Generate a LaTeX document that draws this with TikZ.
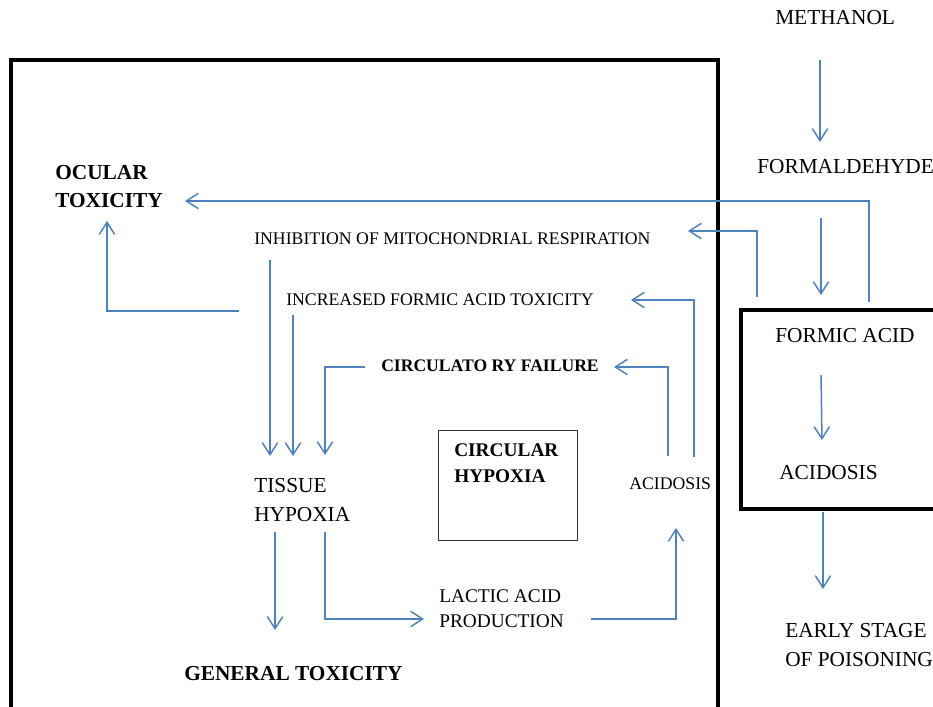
\documentclass[tikz,border=0pt]{standalone}
\usepackage{fontspec}
\setmainfont{Liberation Serif}
\usetikzlibrary{arrows.meta}
\definecolor{flowblue}{RGB}{79,129,189}
\tikzset{
  flow/.style={draw=flowblue,line width=1.1pt,
    -{Straight Barb[length=9pt,width=11.5pt,line width=1.1pt]}},
  frame/.style={draw=black,line width=3pt},
  thinbox/.style={draw=black!80,line width=0.75pt},
  txt/.style={inner sep=0pt,anchor=west,align=left},
  big/.style={txt,font=\fontsize{16}{21.5}\selectfont},
  bigbold/.style={txt,font=\fontsize{16}{21}\selectfont\bfseries},
  mid/.style={txt,font=\fontsize{14.5}{18.8}\selectfont},
  midbold/.style={txt,font=\fontsize{14.5}{19.5}\selectfont\bfseries},
  small/.style={txt,font=\fontsize{13.3}{16}\selectfont},
  smallbold/.style={txt,font=\fontsize{13.2}{16}\selectfont\bfseries},
}
\begin{document}
\begin{tikzpicture}[x=0.75pt,y=-0.75pt]
  \useasboundingbox (0,0) rectangle (933,707);
%% frames
  \draw[frame] (11,707) -- (11,60) -- (718,60) -- (718,707);
  \draw[frame] (933,310) -- (741,310) -- (741,509) -- (933,509);
  \draw[thinbox] (438,430) rectangle (577,540);
%% nodes
  \node[big] (methanol) at (775,18) {METHANOL};
  \node[big] (formald) at (757,167) {FORMALDEHYDE};
  \node[big] (formic) at (775,336) {FORMIC ACID};
  \node[big] (acidR) at (779,473) {ACIDOSIS};
  \node[big] (early) at (785,645) {EARLY STAGE\\OF POISONING};
  \node[bigbold] (ocular) at (55,187) {OCULAR\\TOXICITY};
  \node[small] (inhib) at (254,239) {INHIBITION OF MITOCHONDRIAL RESPIRATION};
  \node[small] (formtox) at (286,300) {INCREASED FORMIC ACID TOXICITY};
  \node[smallbold] (circfail) at (381,366) {CIRCULATO RY FAILURE};
  \node[midbold] (circhyp) at (454,463) {CIRCULAR\\HYPOXIA};
  \node[small] (acidL) at (629,484) {ACIDOSIS};
  \node[big] (tissue) at (254,500) {TISSUE\\HYPOXIA};
  \node[mid] (lactic) at (439,609) {LACTIC ACID\\PRODUCTION};
  \node[bigbold] (general) at (184,674) {GENERAL TOXICITY};
%% connector ends
  \coordinate (methanol-out) at (820,60);   \coordinate (formald-in) at (820,142);
  \coordinate (formald-out) at (821,218);   \coordinate (formic-in) at (821,295);
  \coordinate (formic-out) at (821,375);    \coordinate (acidR-in) at (822,440);
  \coordinate (acidR-out) at (823,512);     \coordinate (early-in) at (823,589);
  \coordinate (formic-up1) at (869,302);    \coordinate (ocular-in1) at (185,201);
  \coordinate (formic-up2) at (757,297);    \coordinate (inhib-in) at (688,231);
  \coordinate (acidL-up1) at (694,457);     \coordinate (formtox-in) at (631,300);
  \coordinate (acidL-up2) at (668,456);     \coordinate (circfail-in) at (614,367);
  \coordinate (lactic-out) at (591,619);    \coordinate (acidL-in) at (676,528);
  \coordinate (tissue-out1) at (325,532);   \coordinate (lactic-in) at (424,619);
  \coordinate (tissue-out2) at (275,532);   \coordinate (general-in) at (275,630);
  \coordinate (inhib-out) at (270,260);     \coordinate (tissue-in1) at (270,456);
  \coordinate (formtox-out) at (293,315);   \coordinate (tissue-in2) at (293,456);
  \coordinate (circfail-out) at (365,367);  \coordinate (tissue-in3) at (325,455);
  \coordinate (formtox-left) at (239,311);  \coordinate (ocular-in2) at (107,221);
%% connectors
  \draw[flow] (methanol-out) -- (formald-in);
  \draw[flow] (formald-out) -- (formic-in);
  \draw[flow] (formic-out) -- (acidR-in);
  \draw[flow] (acidR-out) -- (early-in);
  \draw[flow] (formic-up1) |- (ocular-in1);
  \draw[flow] (formic-up2) |- (inhib-in);
  \draw[flow] (acidL-up1) |- (formtox-in);
  \draw[flow] (acidL-up2) |- (circfail-in);
  \draw[flow] (lactic-out) -| (acidL-in);
  \draw[flow] (tissue-out1) |- (lactic-in);
  \draw[flow] (tissue-out2) -- (general-in);
  \draw[flow] (inhib-out) -- (tissue-in1);
  \draw[flow] (formtox-out) -- (tissue-in2);
  \draw[flow] (circfail-out) -| (tissue-in3);
  \draw[flow] (formtox-left) -| (ocular-in2);
%
\end{tikzpicture}
\end{document}
